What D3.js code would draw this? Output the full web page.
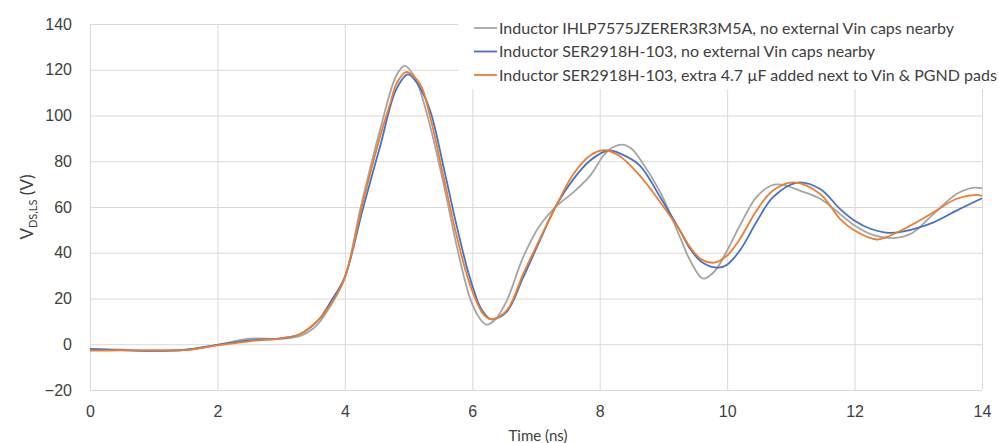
<!DOCTYPE html>
<html>
<head>
<meta charset="utf-8">
<script src="https://cdn.jsdelivr.net/npm/d3@7"></script>
<style>
  body { margin: 0; background: #fff; }
  svg { font-family: Lato, "Liberation Sans", sans-serif; }
  .grid line { stroke: #d9d9d9; stroke-width: 1; }
  .grid .domain { display: none; }
  .tick text { fill: #404040; font-size: 16px; }
</style>
</head>
<body>
<svg id="chart" width="999" height="443"></svg>
<script>
// Inductor IHLP7575JZERER3R3M5A, no external Vin caps: time (ns) / V_DS,LS (V)
var ihlpTimes = [0, 0.5, 1, 1.5, 2, 2.5, 3, 3.3, 3.55, 3.8, 4, 4.25, 4.55, 4.81, 4.94, 5.1, 5.3, 5.55, 5.76, 5.96,
  6.1, 6.22, 6.35, 6.54, 6.8, 7.06, 7.33, 7.59, 7.85, 8.06, 8.2, 8.35, 8.5, 8.63, 8.95, 9.26, 9.42, 9.62, 9.8,
  10, 10.2, 10.46, 10.7, 10.85, 11.14, 11.46, 11.77, 12, 12.3, 12.6, 12.9, 13.24, 13.6, 13.85, 14];
var ihlpValues = [-2, -2.4, -2.8, -2.5, -0.3, 2.4, 2.4, 3.6, 8, 18, 29, 60, 93.4, 117.6, 121.7, 116.5, 99.5, 70, 42.4, 20.5,
  12, 8.6, 10.5, 19, 38.2, 51.9, 60.6, 66.5, 73.7, 82.5, 86, 87.3, 85.5, 81, 66.5, 46.8, 36.6, 28.7, 31.8,
  41, 51.9, 64.3, 69.5, 69.8, 67.2, 63.6, 57, 51.9, 47.7, 46.4, 48.5, 57, 65.7, 68.4, 68.2];

// Inductor SER2918H-103, no external Vin caps
var serTimes = [0, 0.5, 1, 1.5, 2, 2.5, 3, 3.3, 3.58, 3.79, 4, 4.29, 4.55, 4.81, 4.99, 5.15, 5.34, 5.55, 5.76, 5.96,
  6.15, 6.3, 6.54, 6.8, 7.06, 7.33, 7.59, 7.85, 8.13, 8.35, 8.63, 8.95, 9.26, 9.42, 9.6, 9.86,
  10, 10.2, 10.46, 10.72, 11.1, 11.46, 11.77, 12, 12.25, 12.53, 12.75, 13.24, 13.6, 14];
var serValues = [-2, -2.6, -2.9, -2.4, -0.3, 1.7, 2.6, 4.5, 10.4, 19.1, 29.5, 60, 86.2, 111.6, 118, 113.5, 102, 77.4, 51.2, 29.3,
  15, 10.9, 14.2, 29.3, 45.3, 61.3, 72.3, 80.3, 84.7, 83, 78.1, 64.3, 49.7, 41.7, 36, 33.5,
  34.8, 41, 53.4, 64.3, 70.7, 67.9, 59.2, 54, 50.5, 48.7, 49.2, 53.3, 58.4, 63.8];

// Inductor SER2918H-103, extra 4.7 uF next to Vin & PGND pads
var capTimes = [0, 0.5, 1, 1.5, 2, 2.5, 3, 3.3, 3.58, 3.77, 4, 4.29, 4.55, 4.71, 4.81, 4.96, 5.18, 5.34, 5.55, 5.76, 5.96,
  6.17, 6.3, 6.54, 6.8, 7.06, 7.33, 7.59, 7.85, 8.06, 8.3, 8.63, 8.95, 9.26, 9.42, 9.6, 9.8,
  10, 10.2, 10.46, 10.72, 11.04, 11.46, 11.77, 12, 12.35, 12.71, 13.24, 13.6, 13.9, 14];
var capValues = [-2.8, -2.7, -2.6, -2.6, -0.5, 1.3, 2.6, 4.5, 10.5, 17, 29.3, 62.8, 90.5, 105.1, 113.8, 119, 113.8, 99.3, 73, 46.8, 26.4,
  13.3, 10.9, 14.7, 30.8, 46, 61.3, 74.5, 82.5, 84.8, 82.5, 73.7, 62.1, 49.7, 42.4, 37, 35.7,
  38.8, 46, 58.4, 67.2, 70.8, 65.7, 54.8, 49.7, 45.8, 49.5, 57.7, 63.6, 65.3, 65];

var seriesNames = [
  "Inductor IHLP7575JZERER3R3M5A, no external Vin caps nearby",
  "Inductor SER2918H-103, no external Vin caps nearby",
  "Inductor SER2918H-103, extra 4.7 \u00b5F added next to Vin & PGND pads"
];
var seriesColors = ["#a5a5a5", "#4472c4", "#ed7d31"];
var seriesTimes = [ihlpTimes, serTimes, capTimes];
var seriesValues = [ihlpValues, serValues, capValues];

var xTicks = [0, 2, 4, 6, 8, 10, 12, 14];
var yTicks = [-20, 0, 20, 40, 60, 80, 100, 120, 140];

var svg = d3.select("#chart");
var plotL = 90, plotR = 982, plotT = 24, plotB = 390;

var x = d3.scaleLinear().domain([0, 14]).range([plotL, plotR]);
var y = d3.scaleLinear().domain([-20, 140]).range([plotB, plotT]);

// grid + tick labels
svg.append("g")
  .attr("class", "grid")
  .attr("transform", "translate(" + plotL + ",0)")
  .call(d3.axisLeft(y).tickValues(yTicks).tickSize(-(plotR - plotL)).tickPadding(18));

svg.append("g")
  .attr("class", "grid")
  .attr("transform", "translate(0," + plotB + ")")
  .call(d3.axisBottom(x).tickValues(xTicks).tickSize(-(plotB - plotT)).tickPadding(16));

// curves
var line = d3.line()
  .x(function(d) { return x(d[0]); })
  .y(function(d) { return y(d[1]); })
  .curve(d3.curveCatmullRom.alpha(0.5));

seriesValues.forEach(function(vals, i) {
  svg.append("path")
    .datum(seriesTimes[i].map(function(t, k) { return [t, vals[k]]; }))
    .attr("fill", "none")
    .attr("stroke", seriesColors[i])
    .attr("stroke-width", 1.8)
    .attr("d", line);
});

// legend
svg.append("rect")
  .attr("x", 458).attr("y", 8)
  .attr("width", 541).attr("height", 81)
  .attr("fill", "#fff");

var legend = svg.append("g");
seriesNames.forEach(function(name, i) {
  var ly = 28 + i * 23.5;
  legend.append("line")
    .attr("x1", 474).attr("x2", 497)
    .attr("y1", ly).attr("y2", ly)
    .attr("stroke", seriesColors[i])
    .attr("stroke-width", 1.8);
  legend.append("text")
    .attr("x", 499).attr("y", ly)
    .attr("dy", "0.35em")
    .attr("font-size", 16)
    .attr("fill", "#404040")
    .text(name);
});

// axis titles
svg.append("text")
  .attr("x", (plotL + plotR) / 2 + 2)
  .attr("y", 441)
  .attr("text-anchor", "middle")
  .attr("font-size", 15)
  .attr("fill", "#404040")
  .text("Time (ns)");

var yTitle = svg.append("text")
  .attr("transform", "translate(33," + ((plotT + plotB) / 2) + ") rotate(-90)")
  .attr("text-anchor", "middle")
  .attr("font-size", 17)
  .attr("fill", "#404040");
yTitle.append("tspan").text("V");
yTitle.append("tspan").attr("font-size", 11).attr("dy", 4).text("DS,LS");
yTitle.append("tspan").attr("dy", -4).text(" (V)");
</script>
</body>
</html>
